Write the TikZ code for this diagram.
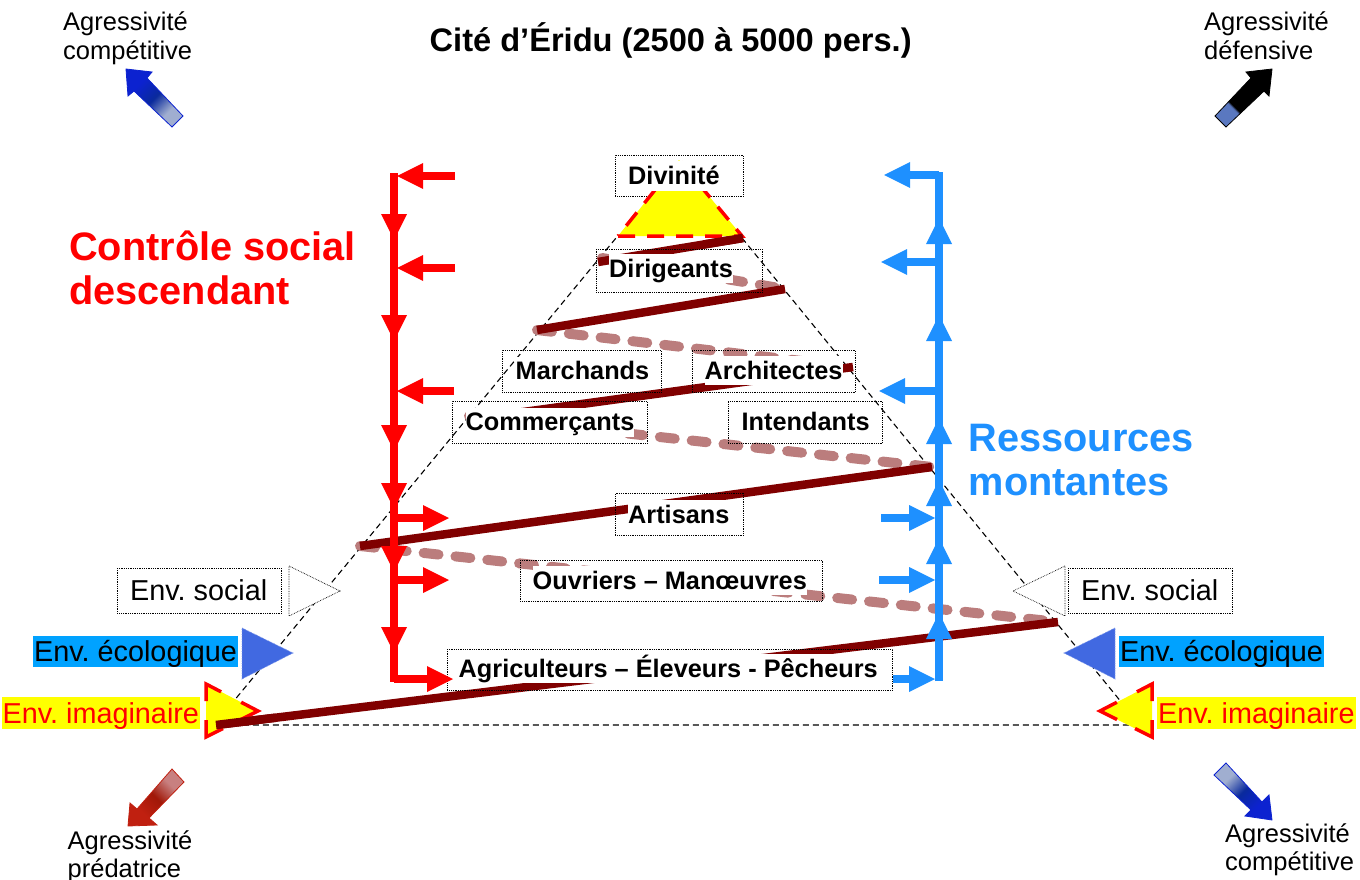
\documentclass[tikz,border=0pt]{standalone}
\usepackage{fontspec}
\setmainfont{Liberation Sans}
\frenchspacing
\usetikzlibrary{arrows.meta,calc}
\definecolor{brownline}{HTML}{800000}
\definecolor{rose}{HTML}{BB7D7D}
\definecolor{skyb}{HTML}{00A2FF}
\definecolor{royal}{HTML}{4169E1}
\definecolor{dodger}{HTML}{1E90FF}
\definecolor{pureyellow}{HTML}{FFFF00}
\definecolor{pbh}{HTML}{0C22D0}
\definecolor{pbm}{HTML}{0A2A9C}
\definecolor{pbt}{HTML}{A0AED0}
\definecolor{pbs}{HTML}{5A78C0}
\definecolor{prh}{HTML}{C02010}
\definecolor{prm}{HTML}{A01808}
\definecolor{prt}{HTML}{C88080}
\pgfdeclareverticalshading{shblue}{100bp}{color(0bp)=(pbt); color(33bp)=(pbt); color(50bp)=(pbm); color(68bp)=(pbh); color(100bp)=(pbh)}
\pgfdeclareverticalshading{shblack}{100bp}{color(0bp)=(pbs); color(37bp)=(pbs); color(39bp)=(black); color(100bp)=(black)}
\pgfdeclareverticalshading{shred}{100bp}{color(0bp)=(prt); color(33bp)=(prt); color(50bp)=(prm); color(68bp)=(prh); color(100bp)=(prh)}
\tikzset{
  solidz/.style={draw=brownline,line width=8.5pt},
  dashz/.style={draw=rose,line width=10pt,line cap=round,dash pattern=on 15pt off 17pt},
  pyr/.style={draw=black,line width=1.1pt,dash pattern=on 6pt off 4pt},
  frame/.style={draw=black,line width=0.8pt,densely dotted,inner sep=0pt,anchor=north west},
  lab/.style={font=\fontsize{25.3}{29}\selectfont\bfseries,anchor=base west,inner sep=0pt,fill=white,text height=23pt,text depth=6pt},
  envt/.style={font=\fontsize{28.8}{32}\selectfont,anchor=base west,inner xsep=1pt,inner ysep=0pt,text height=25.6pt,text depth=5.6pt},
  agr/.style={font=\fontsize{25.5}{28.5}\selectfont,align=left,anchor=base west,inner sep=0pt},
  bigt/.style={font=\fontsize{39.7}{44}\selectfont\bfseries,align=left,anchor=base west,inner sep=0pt},
  redseg/.style={draw=red,line width=7.5pt,-{Triangle[length=26pt,width=26pt,line width=0pt]}},
  blueseg/.style={draw=dodger,line width=7.5pt,-{Triangle[length=26pt,width=26pt,line width=0pt]}},
  redplain/.style={draw=red,line width=7.5pt},
  blueplain/.style={draw=dodger,line width=7.5pt},
  soctri/.style={draw=black,fill=white,line width=0.7pt,densely dotted},
  ecotri/.style={draw=royal!70!white,fill=royal,line width=0.7pt,densely dotted},
  imgline/.style={draw=red,line width=3.5pt,line join=miter},
}
\newcommand{\imgtri}[3]{%
  \fill[pureyellow] (#1) -- (#2) -- (#3) -- cycle;
  \draw[imgline] ($(#1)!17pt!(#2)$) -- (#1) -- ($(#1)!17pt!(#3)$);
  \draw[imgline] ($(#2)!17pt!(#1)$) -- (#2) -- ($(#2)!19pt!(#3)$);
  \draw[imgline] ($(#3)!19pt!(#1)$) -- (#3) -- ($(#3)!19pt!(#2)$);
}
\begin{document}
\begin{tikzpicture}[x=1pt,y=-1pt]
\useasboundingbox (0,0) rectangle (1360,880);
% pyramid
\coordinate (pTL) at (618.5,235);
\coordinate (pBL) at (214,725);
\coordinate (pBR) at (1140,725);
\coordinate (pTR) at (742,238);
\draw[pyr] (pTR) -- (pBR) -- (pBL) -- (pTL);
% zigzag
\coordinate (z0) at (743,238);
\coordinate (z1) at (598,262);
\coordinate (z1b) at (602,258);
\coordinate (z2) at (785,289);
\coordinate (z3) at (537,330);
\coordinate (z4) at (853,367);
\coordinate (z5) at (472,419);
\coordinate (z5b) at (469,416);
\coordinate (z6) at (932,467);
\coordinate (z7) at (360,546);
\coordinate (z8) at (1058,622);
\coordinate (z9) at (216,725);
\draw[dashz] (z1b) -- (z2);
\draw[dashz] (z3) -- (z4);
\draw[dashz] (z5b) -- (z6);
\draw[dashz] (z7) -- (z8);
\draw[solidz] (z0) -- (z1);
\draw[solidz] (z2) -- (z3);
\draw[solidz] (z4) -- (z5);
\draw[solidz] (z6) -- (z7);
\draw[solidz] (z8) -- (z9);
% frames
\node[frame,minimum width=128pt,minimum height=41pt] (fDiv) at (615,155) {};
\node[frame,minimum width=166pt,minimum height=43pt] (fDir) at (596,249) {};
\node[frame,minimum width=159pt,minimum height=42pt] (fMar) at (502,350) {};
\node[frame,minimum width=163pt,minimum height=42pt] (fArc) at (692,350) {};
\node[frame,minimum width=195pt,minimum height=42pt] (fCom) at (452,401) {};
\node[frame,minimum width=154pt,minimum height=42pt] (fInt) at (728,401) {};
\node[frame,minimum width=128pt,minimum height=42pt] (fArt) at (615,493) {};
\node[frame,minimum width=302pt,minimum height=41pt] (fOuv) at (520,560) {};
\node[frame,minimum width=445pt,minimum height=41pt] (fAgr) at (447,649) {};
% apex triangle
\coordinate (tA) at (679,160);
\coordinate (tL) at (618,236);
\coordinate (tR) at (742,236);
\draw[fill=pureyellow,draw=red,line width=3.5pt,dash pattern=on 17pt off 12pt] (tL) -- (tR) -- (tA) -- cycle;
\draw[solidz] (z0) -- ($(z0)!40pt!(z1)$);
% labels
\node[lab] (tDiv) at (628,184.5) {Divinité};
\node[lab] (tDir) at (609,277.2) {Dirigeants};
\node[lab] (tMar) at (515.5,379.5) {Marchands};
\node[lab] (tArc) at (704.5,379.2) {Architectes};
\node[lab] (tCom) at (465.5,430.8) {Commerçants};
\node[lab] (tInt) at (741.5,430.8) {Intendants};
\node[lab] (tArt) at (628,523.3) {Artisans};
\node[lab] (tOuv) at (532.5,589.3) {Ouvriers – Manœuvres};
\node[lab] (tAgr) at (458.5,677.3) {Agriculteurs – Éleveurs - Pêcheurs};
% environment, left
\node[frame,minimum width=164pt,minimum height=45pt] (fSocL) at (117,568) {};
\node[envt] (tSocL) at (129,600) {Env. social};
\coordinate (sl1) at (289,566); \coordinate (sl2) at (289,616); \coordinate (sl3) at (340,591);
\draw[soctri] (sl1) -- (sl3) -- (sl2) -- cycle;
\node[envt,fill=skyb] (tEcoL) at (33,661.5) {Env. écologique};
\coordinate (el1) at (242,628); \coordinate (el2) at (242,679); \coordinate (el3) at (293,653);
\draw[ecotri] (el1) -- (el3) -- (el2) -- cycle;
\node[envt,fill=pureyellow,text=red] (tImgL) at (1.5,723) {Env. imaginaire};
\coordinate (il1) at (206,684); \coordinate (il2) at (206,737); \coordinate (il3) at (258,711);
\imgtri{il1}{il2}{il3}
% environment, right
\node[frame,minimum width=164pt,minimum height=45pt] (fSocR) at (1068,568) {};
\node[envt] (tSocR) at (1080,600) {Env. social};
\coordinate (sr1) at (1065,566); \coordinate (sr2) at (1065,616); \coordinate (sr3) at (1013,591);
\draw[soctri] (sr1) -- (sr3) -- (sr2) -- cycle;
\node[envt,fill=skyb] (tEcoR) at (1119,661.5) {Env. écologique};
\coordinate (er1) at (1115,628); \coordinate (er2) at (1115,679); \coordinate (er3) at (1064,653);
\draw[ecotri] (er1) -- (er3) -- (er2) -- cycle;
\node[envt,fill=pureyellow,text=red] (tImgR) at (1157,723) {Env. imaginaire};
\coordinate (ir1) at (1152,684); \coordinate (ir2) at (1152,737); \coordinate (ir3) at (1100,711);
\imgtri{ir1}{ir2}{ir3}
\draw[solidz] (z9) -- ($(z9)!60pt!(z8)$);
% red chain
\coordinate (rT) at (394,173);
\coordinate (r1) at (394,240);
\coordinate (r2) at (394,341);
\coordinate (r3) at (394,451);
\coordinate (r4) at (394,509);
\coordinate (r5) at (394,572);
\coordinate (r6) at (394,653);
\coordinate (rB) at (394,682);
\draw[redplain] (rT) -- (rB);
\draw[redseg] (rT) -- (r1);
\draw[redseg] (r1) -- (r2);
\draw[redseg] (r2) -- (r3);
\draw[redseg] (r3) -- (r4);
\draw[redseg] (r4) -- (r5);
\draw[redseg] (r5) -- (r6);
\coordinate (raS1) at (455,176); \coordinate (raE1) at (397,176);
\coordinate (raS2) at (455,268); \coordinate (raE2) at (397,268);
\coordinate (raS3) at (454,391); \coordinate (raE3) at (397,391);
\coordinate (raS4) at (394,518); \coordinate (raE4) at (449,518);
\coordinate (raS5) at (394,580); \coordinate (raE5) at (449,580);
\coordinate (raS6) at (394,679); \coordinate (raE6) at (453,679);
\draw[redseg] (raS1) -- (raE1);
\draw[redseg] (raS2) -- (raE2);
\draw[redseg] (raS3) -- (raE3);
\draw[redseg] (raS4) -- (raE4);
\draw[redseg] (raS5) -- (raE5);
\draw[redseg] (raS6) -- (raE6);
% blue chain
\coordinate (bB) at (939,681);
\coordinate (b1) at (939,613);
\coordinate (b2) at (939,538);
\coordinate (b3) at (939,480);
\coordinate (b4) at (939,418);
\coordinate (b5) at (939,315);
\coordinate (b6) at (939,218);
\coordinate (bT) at (939,172);
\coordinate (bC) at (939,175);
\coordinate (baE1) at (884,175);
\draw[blueplain] (bB) -- (bT);
\draw[blueseg] (bB) -- (b1);
\draw[blueseg] (b1) -- (b2);
\draw[blueseg] (b2) -- (b3);
\draw[blueseg] (b3) -- (b4);
\draw[blueseg] (b4) -- (b5);
\draw[blueseg] (b5) -- (b6);
\draw[blueseg] (bC) -- (baE1);
\coordinate (baS2) at (939,262); \coordinate (baE2) at (881,262);
\coordinate (baS3) at (939,391); \coordinate (baE3) at (879,391);
\coordinate (baS4) at (881,518); \coordinate (baE4) at (935,518);
\coordinate (baS5) at (879,580); \coordinate (baE5) at (935,580);
\coordinate (baS6) at (893,679); \coordinate (baE6) at (935,679);
\draw[blueseg] (baS2) -- (baE2);
\draw[blueseg] (baS3) -- (baE3);
\draw[blueseg] (baS4) -- (baE4);
\draw[blueseg] (baS5) -- (baE5);
\draw[blueseg] (baS6) -- (baE6);
% titles
\node[font=\fontsize{32.6}{37}\selectfont\bfseries,anchor=base west,inner sep=0pt] (title) at (429.5,52) {Cité d’Éridu (2500 à 5000 pers.)};
\node[bigt,text=red] (ctrl) at (69,304.5) {Contrôle social\\descendant};
\node[bigt,text=dodger] (res) at (968.5,495) {Ressources\\montantes};
% corner labels
\node[agr] (aTL) at (63,59.5) {Agressivité\\compétitive};
\node[agr] (aTR) at (1204,59.5) {Agressivité\\défensive};
\node[agr] (aBL) at (67.5,877.5) {Agressivité\\prédatrice};
\node[agr] (aBR) at (1225,870.5) {Agressivité\\compétitive};
% corner block arrows
\shadedraw[shading=shblue,shading angle=45,draw=pbh,line width=0.8pt]
  (126,69) -- (152,72) -- (147,78) -- (183,116) -- (172,127) -- (134,91) -- (128,96) -- cycle;
\shadedraw[shading=shblack,shading angle=-45,draw=black,line width=0.8pt]
  (1272,69) -- (1246,72) -- (1251,78) -- (1215,116) -- (1226,127) -- (1264,91) -- (1269,96) -- cycle;
\shadedraw[shading=shred,shading angle=135,draw=prh,line width=0.8pt]
  (128,826) -- (130,803) -- (137,809) -- (172,769) -- (184,782) -- (149,818) -- (157,825) -- cycle;
\shadedraw[shading=shblue,shading angle=-135,draw=pbh,line width=0.8pt]
  (1272,820) -- (1269,795) -- (1262,802) -- (1226,763) -- (1214,775) -- (1251,810) -- (1245,816) -- cycle;
\end{tikzpicture}
\end{document}
